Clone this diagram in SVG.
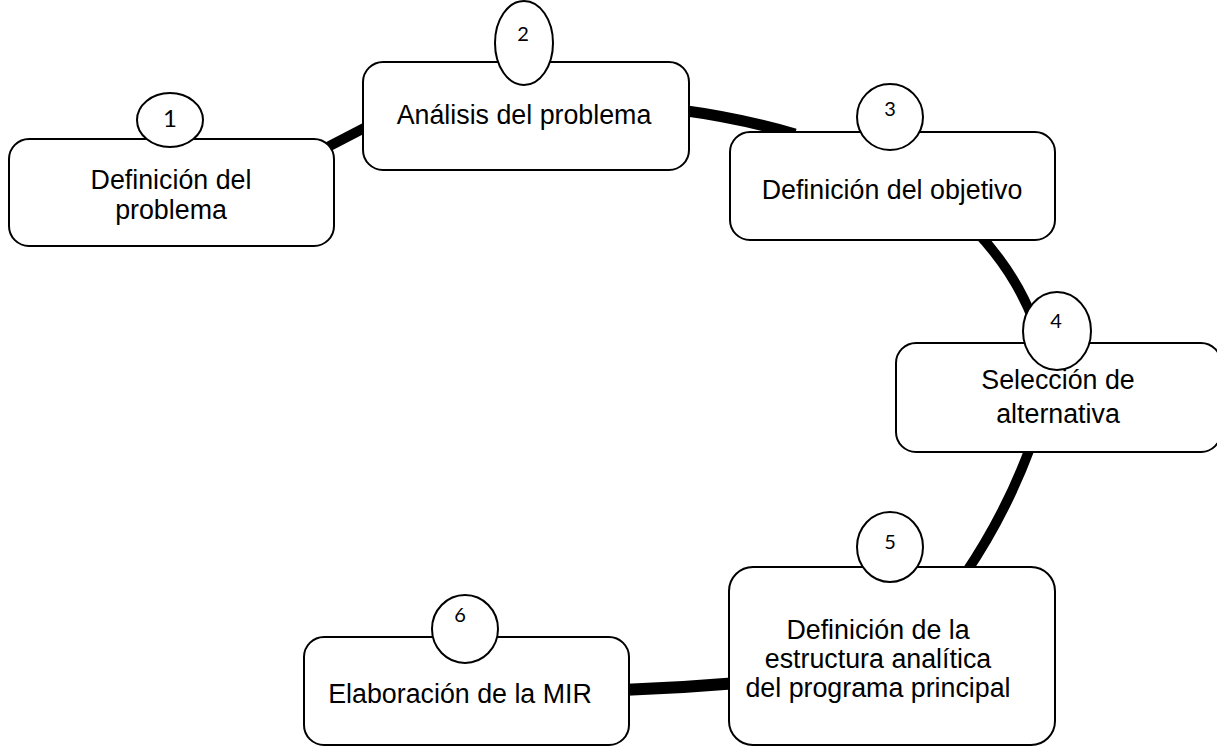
<svg xmlns="http://www.w3.org/2000/svg" width="1217" height="747" viewBox="0 0 1217 747">
<style>
.box{fill:#fff;stroke:#000;stroke-width:2}
.num{fill:#fff;stroke:#000;stroke-width:2}
.t{font-family:"Liberation Sans",Arial,sans-serif;font-size:26.8px;fill:#000;text-anchor:middle}
.n{font-family:Lato,"Open Sans",sans-serif;font-size:20px;fill:#000;text-anchor:middle}
.c{fill:none;stroke:#000;stroke-width:10}
</style>
<rect width="1217" height="747" fill="#fff"/>
<g id="connectors">
<path class="c" d="M 318 152 L 372 124"/>
<path class="c" d="M 680 110 Q 740 118 795 134" style="stroke-width:11"/>
<path class="c" d="M 975 230 Q 1015 272 1034 322"/>
<path class="c" d="M 1030 448 Q 1005 515 965 574"/>
<path class="c" d="M 622 690 Q 680 688 738 683" style="stroke-width:12"/>
</g>
<g id="node1">
<rect class="box" x="9" y="139" width="325" height="107" rx="20"/>
<ellipse class="num" cx="170" cy="120" rx="33" ry="27"/>
<text class="n" x="170" y="127" style="font-size:24px">1</text>
<text class="t" x="171" y="189">Definición del</text>
<text class="t" x="171" y="219">problema</text>
</g>
<g id="node2">
<rect class="box" x="363" y="62" width="326" height="108" rx="20"/>
<ellipse class="num" cx="524" cy="43" rx="29" ry="42"/>
<text class="n" x="523" y="41">2</text>
<text class="t" x="524" y="124">Análisis del problema</text>
</g>
<g id="node3">
<rect class="box" x="730" y="132" width="325" height="108" rx="20"/>
<ellipse class="num" cx="890" cy="117" rx="33" ry="33"/>
<text class="n" x="890" y="116">3</text>
<text class="t" x="892" y="199">Definición del objetivo</text>
</g>
<g id="node4">
<rect class="box" x="896" y="343" width="325" height="109" rx="20"/>
<ellipse class="num" cx="1057" cy="331" rx="34" ry="39"/>
<text class="n" x="1056" y="328">4</text>
<text class="t" x="1058" y="389">Selección de</text>
<text class="t" x="1058" y="423">alternativa</text>
</g>
<g id="node5">
<rect class="box" x="729" y="567" width="326" height="178" rx="24"/>
<ellipse class="num" cx="890" cy="547" rx="33" ry="35"/>
<text class="n" x="890" y="549">5</text>
<text class="t" x="878" y="639">Definición de la</text>
<text class="t" x="878" y="668">estructura analítica</text>
<text class="t" x="878" y="697">del programa principal</text>
</g>
<g id="node6">
<rect class="box" x="304" y="637" width="325" height="108" rx="20"/>
<ellipse class="num" cx="465" cy="629" rx="33" ry="34"/>
<text class="n" x="460" y="622">6</text>
<text class="t" x="460" y="703">Elaboración de la MIR</text>
</g>
</svg>
